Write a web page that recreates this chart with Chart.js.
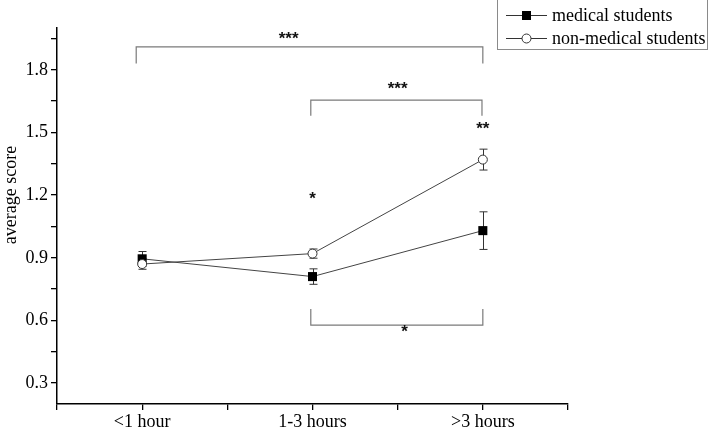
<!DOCTYPE html>
<html>
<head>
<meta charset="utf-8">
<script src="https://cdn.jsdelivr.net/npm/chart.js@4.4.0/dist/chart.umd.min.js"></script>
<style>
html,body{margin:0;padding:0;background:#fff;}
#wrap{width:708px;height:431px;position:relative;}
</style>
</head>
<body>
<div id="wrap"><canvas id="c" width="708" height="431"></canvas></div>
<script>
// ---- data ----
const categories = ['<1 hour', '1-3 hours', '>3 hours'];
const medical = [0.895, 0.81, 1.03];
const medicalErr = [0.035, 0.037, 0.09];
const nonMedical = [0.87, 0.92, 1.37];
const nonMedicalErr = [0.025, 0.022, 0.05];
const yTickLabels = [0.3, 0.6, 0.9, 1.2, 1.5, 1.8];
const seriesNames = ['medical students', 'non-medical students'];

// significance annotations (in data coordinates)
const brackets = [
  {x1: 0.965, x2: 3.0, y: 1.91, leg: 1.83},
  {x1: 1.99, x2: 2.995, y: 1.655, leg: 1.58},
  {x1: 1.99, x2: 3.0, y: 0.578, leg: 0.655}
];
const stars = [
  {x: 1.86, y: 1.965, t: '***'},
  {x: 2.5, y: 1.725, t: '***'},
  {x: 3.0, y: 1.535, t: '**'},
  {x: 2.0, y: 1.197, t: '*'},
  {x: 2.54, y: 0.56, t: '*'}
];

const SERIF = '"Liberation Serif", "Times New Roman", serif';

function pts(vals) { return vals.map((v, i) => ({x: i + 1, y: v})); }

const errorBars = {
  id: 'errorBars',
  beforeDatasetsDraw(chart) {
    const ctx = chart.ctx, xs = chart.scales.x, ys = chart.scales.y;
    const sets = [[medical, medicalErr], [nonMedical, nonMedicalErr]];
    ctx.save();
    ctx.strokeStyle = '#333';
    ctx.lineWidth = 1;
    sets.forEach(([vals, errs]) => {
      vals.forEach((v, i) => {
        const px = Math.round(xs.getPixelForValue(i + 1)) + 0.5;
        const top = ys.getPixelForValue(v + errs[i]);
        const bot = ys.getPixelForValue(v - errs[i]);
        ctx.beginPath();
        ctx.moveTo(px, top); ctx.lineTo(px, bot);
        ctx.moveTo(px - 4, top); ctx.lineTo(px + 4, top);
        ctx.moveTo(px - 4, bot); ctx.lineTo(px + 4, bot);
        ctx.stroke();
      });
    });
    ctx.restore();
  }
};

const annot = {
  id: 'annot',
  afterDraw(chart) {
    const ctx = chart.ctx, xs = chart.scales.x, ys = chart.scales.y;
    ctx.save();
    ctx.strokeStyle = '#7a7a7a';
    ctx.lineWidth = 1.2;
    brackets.forEach(b => {
      const x1 = xs.getPixelForValue(b.x1), x2 = xs.getPixelForValue(b.x2);
      const y = ys.getPixelForValue(b.y), yl = ys.getPixelForValue(b.leg);
      ctx.beginPath();
      ctx.moveTo(x1, yl); ctx.lineTo(x1, y); ctx.lineTo(x2, y); ctx.lineTo(x2, yl);
      ctx.stroke();
    });
    ctx.fillStyle = '#111';
    ctx.font = 'bold 17px "Liberation Sans", Arial, sans-serif';
    ctx.textAlign = 'center';
    ctx.textBaseline = 'middle';
    stars.forEach(s => {
      ctx.fillText(s.t, xs.getPixelForValue(s.x), ys.getPixelForValue(s.y) + 4);
    });

    // y-axis title
    ctx.save();
    ctx.translate(11, 195);
    ctx.rotate(-Math.PI / 2);
    ctx.font = '18px ' + SERIF;
    ctx.fillStyle = '#000';
    ctx.fillText('average score', 0, 0);
    ctx.restore();

    // legend
    ctx.strokeStyle = '#8a8a8a';
    ctx.lineWidth = 1;
    ctx.strokeRect(497.5, -0.5, 210, 50);
    const rows = [15, 38];
    rows.forEach((ry, k) => {
      ctx.strokeStyle = '#333';
      ctx.lineWidth = 1;
      ctx.beginPath();
      ctx.moveTo(506, ry + 0.5); ctx.lineTo(547, ry + 0.5);
      ctx.stroke();
      if (k === 0) {
        ctx.fillStyle = '#000';
        ctx.fillRect(522, ry - 4, 9, 9);
      } else {
        ctx.beginPath();
        ctx.arc(526.5, ry + 0.5, 4.5, 0, Math.PI * 2);
        ctx.fillStyle = '#fff';
        ctx.fill();
        ctx.stroke();
      }
      ctx.fillStyle = '#000';
      ctx.font = '18px ' + SERIF;
      ctx.textAlign = 'left';
      ctx.textBaseline = 'middle';
      ctx.fillText(seriesNames[k], 552, ry + 1);
    });
    ctx.restore();
  }
};

new Chart(document.getElementById('c'), {
  type: 'line',
  data: {
    datasets: [
      {
        label: seriesNames[0],
        data: pts(medical),
        order: 1,
        borderColor: '#444',
        borderWidth: 1,
        pointStyle: 'rect',
        pointRadius: 6.4,
        pointBackgroundColor: '#000',
        pointBorderColor: '#000',
        pointBorderWidth: 0,
        tension: 0
      },
      {
        label: seriesNames[1],
        data: pts(nonMedical),
        order: 0,
        borderColor: '#444',
        borderWidth: 1,
        pointStyle: 'circle',
        pointRadius: 4.5,
        pointBackgroundColor: '#fff',
        pointBorderColor: '#333',
        pointBorderWidth: 1,
        tension: 0
      }
    ]
  },
  options: {
    responsive: false,
    animation: false,
    devicePixelRatio: 1,
    layout: {padding: {left: 0, right: 140, top: 28, bottom: 0}},
    plugins: {legend: {display: false}, tooltip: {enabled: false}},
    scales: {
      x: {
        type: 'linear',
        min: 0.5, max: 3.5,
        afterFit(s) { s.height = 27; },
        afterBuildTicks(s) { s.ticks = [0.5, 1, 1.5, 2, 2.5, 3, 3.5].map(v => ({value: v})); },
        ticks: {
          autoSkip: false,
          maxRotation: 0,
          padding: 1,
          color: '#000',
          font: {family: SERIF, size: 18},
          callback: v => (Number.isInteger(v) ? categories[v - 1] : '')
        },
        grid: {drawOnChartArea: false, drawTicks: true, tickLength: 6, color: '#000', lineWidth: 1.3},
        border: {display: true, color: '#000', width: 1.5}
      },
      y: {
        type: 'linear',
        min: 0.2, max: 2.0,
        afterFit(s) { s.width = 57; },
        afterBuildTicks(s) {
          const t = [];
          for (let k = 2; k <= 13; k++) t.push({value: Math.round(k * 15) / 100});
          s.ticks = t;
        },
        ticks: {
          autoSkip: false,
          padding: 3,
          color: '#000',
          font: {family: SERIF, size: 18},
          callback: v => (yTickLabels.some(l => Math.abs(l - v) < 1e-6) ? v.toFixed(1) : '')
        },
        grid: {drawOnChartArea: false, drawTicks: true, tickLength: 6, color: '#000', lineWidth: 1.3},
        border: {display: true, color: '#000', width: 1.5}
      }
    }
  },
  plugins: [errorBars, annot]
});
</script>
</body>
</html>
